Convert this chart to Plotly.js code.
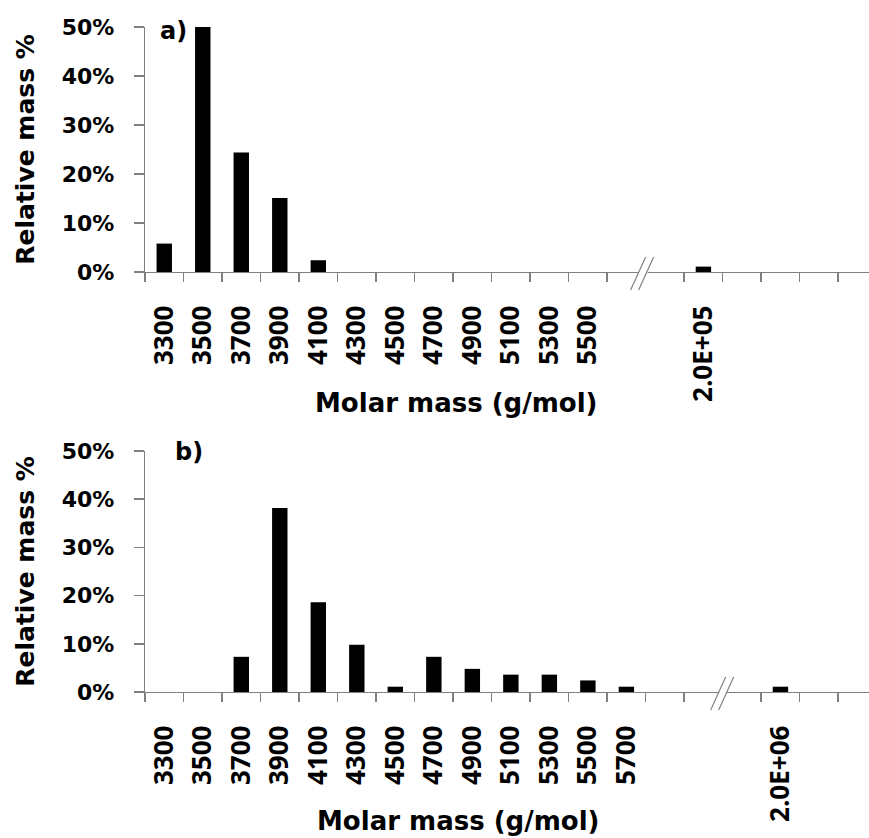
<!DOCTYPE html>
<html>
<head>
<meta charset="utf-8">
<script src="https://cdn.plot.ly/plotly-3.0.1.min.js"></script>
<style>html,body{margin:0;padding:0;background:#fff;}#chart{width:869px;height:838px;}</style>
</head>
<body>
<div id="chart"></div>
<script>
// Panel a) categories ("" = empty Excel category)
const catsA = ["3300","3500","3700","3900","4100","4300","4500","4700","4900","5100","5300","5500","","","2.0E+05","","","",""];
const valsA = [5.8, 50, 24.4, 15.1, 2.4, 0, 0, 0, 0, 0, 0, 0, null, null, 1.1, null, null, null, null];
const breakA = 13; // index of the category boundary replaced by the axis-break mark

// Panel b)
const catsB = ["3300","3500","3700","3900","4100","4300","4500","4700","4900","5100","5300","5500","5700","","","","2.0E+06","",""];
const valsB = [0, 0, 7.3, 38.2, 18.6, 9.8, 1.1, 7.3, 4.8, 3.6, 3.6, 2.4, 1.1, null, null, null, 1.1, null, null];
const breakB = 15;

const yTicks = [0, 10, 20, 30, 40, 50];
const xTitle = "Molar mass (g/mol)";
const yTitle = "Relative mass %";
const panelLabels = ["a)", "b)"];

const FONT = "DejaVu Sans";
const XFONT = "Open Sans";
const AX = "#808080";
const XRANGE = [-0.5, 18.3];
const XDOM = [145/869, 1];
const YDOM_A = [1 - 272/838, 1 - 27/838];
const YDOM_B = [1 - 692/838, 1 - 451/838];

// empty categories need unique keys: give each a distinct run of spaces
function keys(cats){ let n = 0; return cats.map(c => c === "" ? " ".repeat(++n) : c); }
function xPaper(v){ return XDOM[0] + (v - XRANGE[0]) / (XRANGE[1] - XRANGE[0]) * (XDOM[1] - XDOM[0]); }

function xaxisDef(cats){
  return {
    type: "category",
    categoryorder: "array",
    categoryarray: keys(cats),
    domain: XDOM, range: XRANGE,
    tickson: "boundaries",
    ticks: "outside", ticklen: 9, tickwidth: 1.5, tickcolor: AX,
    tickangle: -90,
    ticklabelstandoff: 22,
    tickfont: {family: XFONT, size: 26, color: "#000", weight: "bold"},
    showline: true, linecolor: AX, linewidth: 1.2,
    showgrid: false, zeroline: false, fixedrange: true
  };
}
function yaxisDef(domain){
  return {
    domain: domain,
    range: [0, 50],
    tickmode: "array",
    tickvals: yTicks,
    ticktext: yTicks.map(v => v + "%"),
    ticks: "outside", ticklen: 10, tickwidth: 1.5, tickcolor: AX,
    ticklabelstandoff: 15,
    tickfont: {family: FONT, size: 22, color: "#000", weight: "bold"},
    showline: true, linecolor: AX, linewidth: 1.2,
    showgrid: false, zeroline: false, fixedrange: true,
    title: {text: yTitle, font: {family: FONT, size: 25, color: "#000", weight: "bold"}, standoff: 20}
  };
}

function breakShapes(brk, ydom, dx){
  const common = {xref: "paper", yref: "paper", xsizemode: "pixel", ysizemode: "pixel",
                  xanchor: xPaper(brk - 0.5), yanchor: ydom[0], layer: "above"};
  const a = -13 + dx, b = -5 + dx, c = 2 + dx, d = 10 + dx;
  return [
    Object.assign({type: "path", path: `M${a},-18L${b},-18L${d},15L${c},15Z`, fillcolor: "#fff", line: {width: 0}}, common),
    Object.assign({type: "line", x0: 0, y0: -11, x1: 0, y1: 1, line: {color: "#fff", width: 4}}, common),
    Object.assign({type: "line", x0: a, y0: -18, x1: c, y1: 15, line: {color: AX, width: 1.2}}, common),
    Object.assign({type: "line", x0: b, y0: -18, x1: d, y1: 15, line: {color: AX, width: 1.2}}, common)
  ];
}

const traces = [
  {type: "bar", x: keys(catsA), y: valsA, xaxis: "x", yaxis: "y", marker: {color: "#000"}, hoverinfo: "skip"},
  {type: "bar", x: keys(catsB), y: valsB, xaxis: "x2", yaxis: "y2", marker: {color: "#000"}, hoverinfo: "skip"}
];

const titleFont = {family: FONT, size: 26, color: "#000", weight: "bold"};
const panelFont = {family: FONT, size: 24, color: "#000", weight: "bold"};
const layout = {
  width: 869, height: 838,
  margin: {l: 0, r: 0, t: 0, b: 0},
  paper_bgcolor: "#fff", plot_bgcolor: "#fff",
  showlegend: false,
  bargap: 0.6,
  xaxis: Object.assign(xaxisDef(catsA), {anchor: "y"}),
  yaxis: Object.assign(yaxisDef(YDOM_A), {anchor: "x"}),
  xaxis2: Object.assign(xaxisDef(catsB), {anchor: "y2"}),
  yaxis2: Object.assign(yaxisDef(YDOM_B), {anchor: "x2"}),
  shapes: breakShapes(breakA, YDOM_A, -2).concat(breakShapes(breakB, YDOM_B, 1)),
  annotations: [
    {xref: "paper", yref: "paper", x: 456/869, y: 1 - 403/838, text: xTitle, showarrow: false, xanchor: "center", yanchor: "middle", font: titleFont},
    {xref: "paper", yref: "paper", x: 458/869, y: 1 - 821/838, text: xTitle, showarrow: false, xanchor: "center", yanchor: "middle", font: titleFont},
    {xref: "paper", yref: "paper", x: 158/869, y: 1 - 31/838, text: panelLabels[0], showarrow: false, xanchor: "left", yanchor: "middle", font: panelFont},
    {xref: "paper", yref: "paper", x: 173/869, y: 1 - 452/838, text: panelLabels[1], showarrow: false, xanchor: "left", yanchor: "middle", font: panelFont}
  ]
};

Plotly.newPlot("chart", traces, layout, {staticPlot: true, displayModeBar: false});
</script>
</body>
</html>
